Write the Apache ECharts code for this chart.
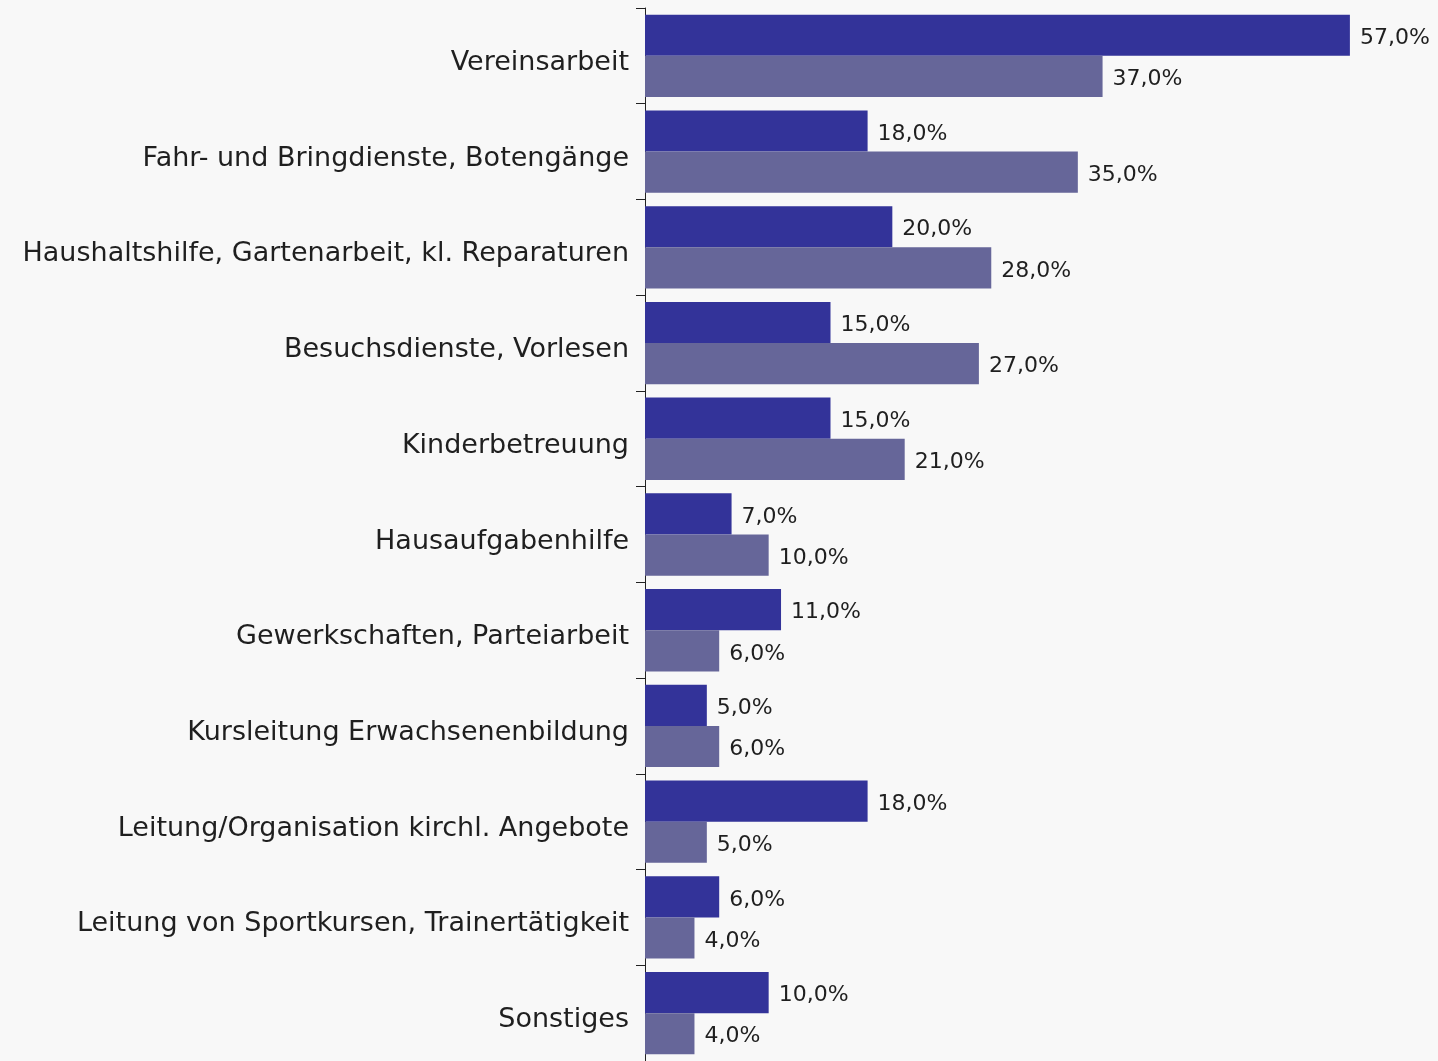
<!DOCTYPE html>
<html>
<head>
<meta charset="utf-8">
<script src="https://cdn.jsdelivr.net/npm/echarts@6/dist/echarts.min.js"></script>
<style>
  html, body { margin: 0; padding: 0; background: #f8f8f8; }
  #chart { width: 1438px; height: 1061px; }
</style>
</head>
<body>
<div id="chart"></div>
<script>
const categories = [
  "Vereinsarbeit",
  "Fahr- und Bringdienste, Botengänge",
  "Haushaltshilfe, Gartenarbeit, kl. Reparaturen",
  "Besuchsdienste, Vorlesen",
  "Kinderbetreuung",
  "Hausaufgabenhilfe",
  "Gewerkschaften, Parteiarbeit",
  "Kursleitung Erwachsenenbildung",
  "Leitung/Organisation kirchl. Angebote",
  "Leitung von Sportkursen, Trainertätigkeit",
  "Sonstiges"
];
const seriesA = [57, 18, 20, 15, 15, 7, 11, 5, 18, 6, 10];
const seriesB = [37, 35, 28, 27, 21, 10, 6, 6, 5, 4, 4];

const fmt = function (p) {
  return p.value.toFixed(1).replace(".", ",") + "%";
};

const labelStyle = {
  show: true,
  position: "right",
  distance: 10,
  offset: [0, 3],
  color: "#1f1f1f",
  fontSize: 22,
  fontFamily: "DejaVu Sans",
  formatter: fmt
};

const myChart = echarts.init(document.getElementById("chart"));
const option = {
  backgroundColor: "#f8f8f8",
  animation: false,
  grid: {
    left: 645,
    right: 51,
    top: 8,
    bottom: -4,
    containLabel: false
  },
  xAxis: {
    type: "value",
    min: 0,
    max: 60,
    show: false
  },
  yAxis: {
    type: "category",
    inverse: true,
    data: categories,
    axisLine: { show: true, lineStyle: { color: "#222", width: 1 } },
    axisTick: { show: true, length: 9, lineStyle: { color: "#222", width: 1 } },
    axisLabel: {
      margin: 16,
      formatter: function (v) { return "{c|" + v + "}"; },
      rich: {
        c: {
          padding: [14, 0, 0, 0],
          color: "#1f1f1f",
          fontSize: 27,
          fontFamily: "DejaVu Sans"
        }
      }
    }
  },
  series: [
    {
      name: "A",
      type: "bar",
      data: seriesA,
      barWidth: "43%",
      barGap: "0%",
      itemStyle: { color: "#333399" },
      label: labelStyle
    },
    {
      name: "B",
      type: "bar",
      data: seriesB,
      barWidth: "43%",
      barGap: "0%",
      itemStyle: { color: "#666699" },
      label: labelStyle
    }
  ]
};
myChart.setOption(option);
</script>
</body>
</html>
